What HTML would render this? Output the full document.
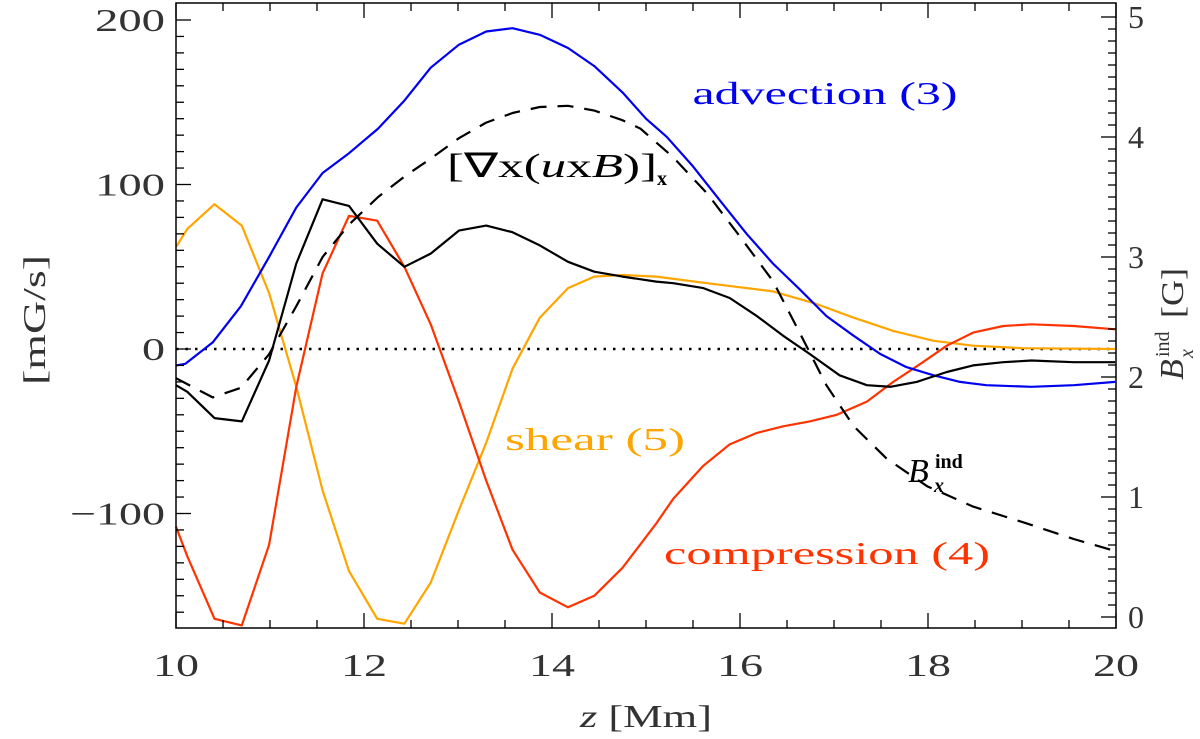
<!DOCTYPE html>
<html><head><meta charset="utf-8"><style>
html,body{margin:0;padding:0;background:#fff;}
svg{display:block;font-family:"Liberation Serif",serif;}
</style></head><body>
<svg id="chart" width="1200" height="739" viewBox="0 0 1200 739">
<g id="series"></g>
<g id="axes"></g>
<text x="825" y="104" fill="#0000ee" font-size="32" textLength="265" lengthAdjust="spacingAndGlyphs" text-anchor="middle">advection (3)</text>
<text x="552" y="177" fill="#000" font-size="34" text-anchor="middle" textLength="210" lengthAdjust="spacingAndGlyphs">[∇x(<tspan font-style="italic">u</tspan>x<tspan font-style="italic">B</tspan>)]</text>
<text x="657" y="185" fill="#000" font-size="20" font-weight="bold">x</text>
<text x="595" y="450" fill="#ffa500" font-size="32" text-anchor="middle" textLength="180" lengthAdjust="spacingAndGlyphs">shear (5)</text>
<text x="827" y="564" fill="#ff3300" font-size="32" text-anchor="middle" textLength="326" lengthAdjust="spacingAndGlyphs">compression (4)</text>
<text x="908" y="482" fill="#000" font-size="34" font-style="italic">B</text>
<text x="935" y="468" fill="#000" font-size="20" font-weight="bold">ind</text>
<text x="934" y="492" fill="#000" font-size="20" font-weight="bold" font-style="italic">x</text>
<text x="646" y="727" font-size="32" fill="#333" text-anchor="middle" textLength="132" lengthAdjust="spacingAndGlyphs"><tspan font-style="italic">z</tspan> [Mm]</text>
<text transform="translate(45,320) rotate(-90)" font-size="32" fill="#333" text-anchor="middle" textLength="130" lengthAdjust="spacingAndGlyphs">[mG/s]</text>
<g transform="translate(1183,300) rotate(-90)" fill="#333">
<text x="-80" y="0" font-size="34" font-style="italic">B</text>
<text x="-57" y="-14" font-size="20">ind</text>
<text x="-58" y="10" font-size="20" font-style="italic">x</text>
<text x="-18" y="0" font-size="32" textLength="50" lengthAdjust="spacingAndGlyphs">[G]</text>
</g>
</svg>
<script>
const blueZ=[10.00,10.10,10.39,10.69,10.99,11.28,11.56,11.84,12.15,12.43,12.71,13.01,13.30,13.58,13.87,14.17,14.45,14.75,15.00,15.22,15.50,15.79,16.07,16.35,16.64,16.92,17.21,17.49,17.77,18.06,18.34,18.62,19.10,19.55,19.99];
const blueV=[-10,-9,4,26,56,86,107,119,134,151,171,185,193,195,191,183,172,156,140,129,111,90,70,52,36,20,8,-3,-11,-16,-20,-22,-23,-22,-20];
const blackZ=[10.00,10.12,10.41,10.70,10.99,11.28,11.56,11.84,12.14,12.43,12.71,13.01,13.30,13.58,13.87,14.17,14.45,14.75,15.11,15.29,15.61,15.89,16.18,16.46,16.74,17.06,17.35,17.60,17.88,18.20,18.48,18.80,19.10,19.55,19.99];
const blackV=[-22,-26,-42,-44,-7,52,91,87,64,50,58,72,75,71,63,53,47,44,41,40,37,31,20,8,-3,-16,-22,-23,-20,-14,-10,-8,-7,-8,-8];
const shearZ=[10.00,10.12,10.41,10.70,10.99,11.28,11.56,11.84,12.14,12.43,12.71,13.01,13.30,13.58,13.87,14.17,14.45,14.75,15.11,15.65,16.35,16.78,17.21,17.63,18.06,18.48,19.01,19.99];
const shearV=[62,73,88,75,34,-23,-86,-135,-164,-167,-142,-98,-57,-12,19,37,44,45,44,40,35,28,19,11,5,2,0.5,0];
const compZ=[10.00,10.12,10.41,10.70,10.99,11.28,11.56,11.84,12.14,12.43,12.71,13.01,13.30,13.58,13.87,14.17,14.45,14.75,15.11,15.29,15.61,15.89,16.18,16.46,16.74,17.03,17.35,17.63,17.92,18.20,18.48,18.80,19.10,19.55,19.99];
const compV=[-108,-126,-164,-168,-119,-23,46,81,78,50,15,-32,-80,-122,-148,-157,-150,-133,-106,-91,-71,-58,-51,-47,-44,-40,-32,-20,-9,2,10,14,15,14,12];
const bindZ=[10.00,10.39,10.69,10.99,11.28,11.56,11.84,12.15,12.43,12.71,13.01,13.30,13.58,13.87,14.17,14.45,14.75,14.94,15.29,15.65,16.00,16.35,16.64,16.92,17.21,17.56,17.99,18.48,19.01,19.55,19.99];
const bindV=[1.99,1.83,1.91,2.19,2.59,3.00,3.27,3.50,3.67,3.82,3.99,4.12,4.20,4.25,4.26,4.22,4.14,4.07,3.83,3.53,3.17,2.80,2.36,1.93,1.59,1.32,1.09,0.92,0.79,0.65,0.55];
const xTicks=[10,12,14,16,18,20];
const leftTicks=[-100,0,100,200];
const rightTicks=[0,1,2,3,4,5];

const L=176,R=1116,T=3,B=628;
const xs=z=>L+(z-10)*94;
const yl=v=>349-v*1.645;
const yr=v=>617-v*120;
const NS="http://www.w3.org/2000/svg";
const sg=document.getElementById('series'), ag=document.getElementById('axes');
function mk(tag,attrs,parent){const e=document.createElementNS(NS,tag);for(const k in attrs)e.setAttribute(k,attrs[k]);parent.appendChild(e);return e;}

const zl=mk('line',{x1:L,x2:R,y1:yl(0),y2:yl(0),stroke:'#000','stroke-width':2.5,'stroke-dasharray':'2.5 7'},sg);



function series(zArr,vArr,yf,color,name,dash){
  const d=zArr.map((z,i)=>(i?'L':'M')+xs(z).toFixed(1)+' '+yf(vArr[i]).toFixed(1)).join(' ');
  const p=mk('path',{d:d,fill:'none',stroke:color,'stroke-width':2.2,'stroke-linejoin':'round'},sg);
  if(dash)p.setAttribute('stroke-dasharray',dash);
  
  
}
series(shearZ,shearV,yl,'#ffa500','shear-line');
series(compZ,compV,yl,'#ff3300','compression-line');
series(blueZ,blueV,yl,'#0000ee','advection-line');
series(blackZ,blackV,yl,'#000','curl-line');
series(bindZ,bindV,yr,'#000','bx-ind-line','16 11');

const fr=mk('rect',{x:L,y:T,width:R-L,height:B-T,fill:'none',stroke:'#000','stroke-width':1.5},ag);



for(let z=10;z<=20.001;z+=0.5){
  const maj=Math.abs(z-Math.round(z/2)*2)<0.01;
  const len=maj?15:8;
  mk('line',{x1:xs(z),x2:xs(z),y1:B,y2:B-len,stroke:'#000','stroke-width':1.3},ag);
  mk('line',{x1:xs(z),x2:xs(z),y1:T,y2:T+len,stroke:'#000','stroke-width':1.3},ag);
}
xTicks.forEach(z=>{
  const t=mk('text',{x:xs(z),y:676,'font-size':32,'text-anchor':'middle',fill:'#333',textLength:46,lengthAdjust:'spacingAndGlyphs'},ag);
  t.textContent=String(z);
  
  
});
for(let v=-160;v<=200;v+=10){
  const maj=v%100===0;
  mk('line',{x1:L,x2:L+(maj?15:8),y1:yl(v),y2:yl(v),stroke:'#000','stroke-width':1.3},ag);
}
leftTicks.forEach(v=>{
  const label=v<0?'\u2212'+Math.abs(v):String(v);
  const w=v<0?95:(v===0?23:70);
  const t=mk('text',{x:165,y:yl(v)+11,'font-size':32,'text-anchor':'end',fill:'#333',textLength:w,lengthAdjust:'spacingAndGlyphs'},ag);
  t.textContent=label;
  
  
});
for(let i=0;i<=50;i++){
  const v=i/10, maj=i%10===0;
  mk('line',{x1:R,x2:R-(maj?15:8),y1:yr(v),y2:yr(v),stroke:'#000','stroke-width':1.3},ag);
}
rightTicks.forEach(v=>{
  const t=mk('text',{x:1128,y:yr(v)+11,'font-size':32,'text-anchor':'start',fill:'#333'},ag);
  t.textContent=String(v);
  
  
});
</script>
</body></html>
